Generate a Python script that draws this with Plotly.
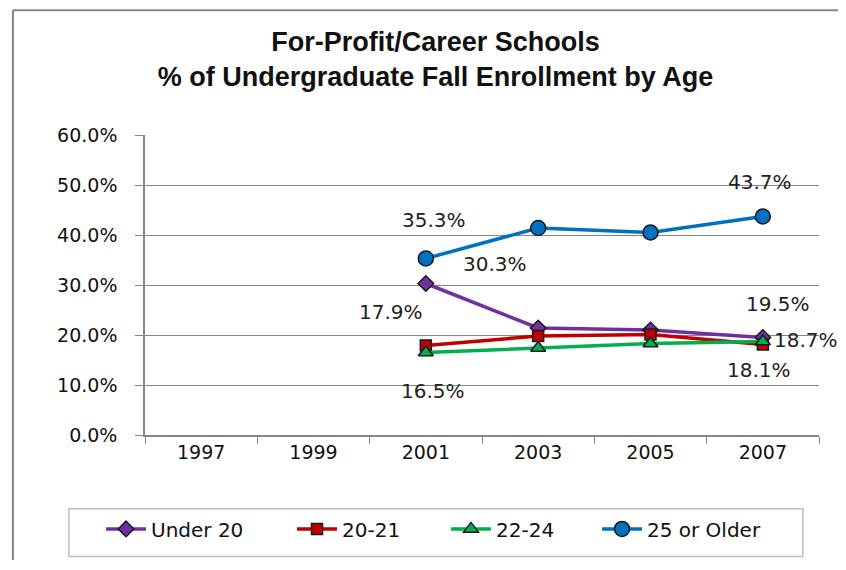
import plotly.graph_objects as go

# Data
years = ["1997", "1999", "2001", "2003", "2005", "2007"]
under_20 = [None, None, 30.3, 21.4, 21.0, 19.5]
age_20_21 = [None, None, 17.9, 19.8, 20.1, 18.1]
age_22_24 = [None, None, 16.5, 17.4, 18.3, 18.7]
age_25_plus = [None, None, 35.3, 41.4, 40.5, 43.7]

series = [
    ("Under 20", under_20, "#7030A0", "diamond", 12),
    ("20-21", age_20_21, "#C00000", "square", 11),
    ("22-24", age_22_24, "#00B050", "triangle-up", 13),
    ("25 or Older", age_25_plus, "#0070C0", "circle", 15),
]

font_main = "DejaVu Sans"
grid = "#868686"

fig = go.Figure()
legend_ids = ["legend", "legend2", "legend3", "legend4"]
for (name, vals, color, symbol, size), lg in zip(series, legend_ids):
    fig.add_trace(go.Scatter(
        x=years, y=vals, name=name, mode="lines+markers",
        line=dict(color=color, width=3.5),
        marker=dict(symbol=symbol, size=size, color=color,
                    line=dict(color="#1a1a1a", width=1.5)),
        legend=lg,
    ))

# Data labels (Excel placed them loosely; shifts in pixels from the point)
labels = [
    (age_25_plus, 2, 8, 39),
    (under_20, 2, 69, 20),
    (age_20_21, 2, -35, 34),
    (age_22_24, 2, 7, -38),
    (age_25_plus, 5, -3, 35),
    (under_20, 5, 15, 34),
    (age_22_24, 5, 43, 2),
    (age_20_21, 5, -4, -25),
]
for vals, i, dx, dy in labels:
    fig.add_annotation(
        x=i, y=vals[i], text=f"{vals[i]:.1f}%", showarrow=False,
        xshift=dx, yshift=dy, font=dict(family=font_main, size=20, color="#222222"),
    )

# outer chart border (only left and top edges fall inside the picture)
fig.add_shape(type="line", xref="paper", yref="paper",
              x0=-0.196, x1=-0.196, y0=-0.8, y1=1.416,
              line=dict(color=grid, width=2), layer="below")
fig.add_shape(type="line", xref="paper", yref="paper",
              x0=-0.196, x1=1.5, y0=1.416, y1=1.416,
              line=dict(color=grid, width=2), layer="below")
# legend box (one legend per series so entries can be spaced like the original)
fig.add_shape(type="rect", xref="paper", yref="paper",
              x0=-0.113, x1=0.976, y0=-0.405, y1=-0.246,
              line=dict(color="#BFBFBF", width=1.5), layer="below")

legend_x = [(101 - 145) / 674, (292 - 145) / 674, (446 - 145) / 674, (597 - 145) / 674]
legend_style = dict(
    orientation="h", y=-0.248, xanchor="left", yanchor="top",
    borderwidth=0, bgcolor="rgba(0,0,0,0)",
    font=dict(family=font_main, size=20, color="#111111"),
    itemwidth=40,
)

fig.update_layout(
    width=830, height=552,
    margin=dict(l=137, r=19, t=127, b=122),
    paper_bgcolor="white", plot_bgcolor="white",
    title=dict(
        text="For-Profit/Career Schools<br>% of Undergraduate Fall Enrollment by Age",
        x=0.515, xanchor="center", y=0.922, yanchor="middle",
        font=dict(family="Liberation Sans", size=27, color="#111111", weight="bold"),
    ),
    showlegend=True,
    legend=dict(x=legend_x[0], **legend_style),
    legend2=dict(x=legend_x[1], **legend_style),
    legend3=dict(x=legend_x[2], **legend_style),
    legend4=dict(x=legend_x[3], **legend_style),
    xaxis=dict(
        type="category", range=[-0.5, 5.5],
        showline=True, linecolor=grid, linewidth=1.5,
        ticks="outside", ticklen=7, tickcolor=grid, tickson="boundaries",
        showgrid=False,
        tickfont=dict(family=font_main, size=19, color="#111111"),
        ticklabelstandoff=-1,
    ),
    yaxis=dict(
        range=[0, 60], dtick=10, tickformat=".1f", ticksuffix="%",
        showline=True, linecolor=grid, linewidth=1.5,
        ticks="outside", ticklen=8, tickcolor=grid,
        showgrid=True, gridcolor=grid, gridwidth=1.2,
        zeroline=False,
        tickfont=dict(family=font_main, size=19, color="#111111"),
        ticklabelstandoff=14,
    ),
)

fig.write_html("out.html")
